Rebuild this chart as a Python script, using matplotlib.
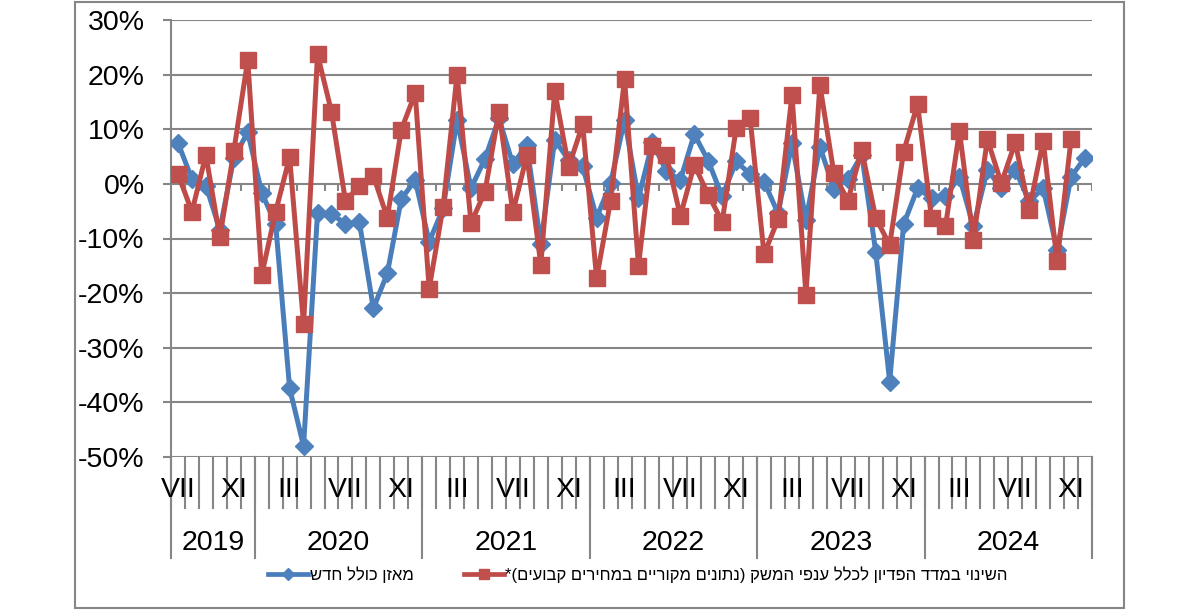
import numpy as np
import matplotlib.pyplot as plt
from matplotlib.lines import Line2D
from matplotlib.patches import Rectangle

plt.rcParams['font.family'] = ['Liberation Sans', 'DejaVu Sans']

# monthly data, July 2019 .. December 2024
years = [2019, 2020, 2021, 2022, 2023, 2024]
months_in_year = [6, 12, 12, 12, 12, 12]
first_month = 7
roman = ['I', 'II', 'III', 'IV', 'V', 'VI', 'VII', 'VIII', 'IX', 'X', 'XI', 'XII']

# new overall balance (%)
balance = [7.5, 0.9, -0.3, -8.4, 4.7, 9.5,
           -1.6, -7.4, -37.4, -48.0, -5.3, -5.5, -7.3, -7.0, -22.8, -16.4, -2.8, 0.7,
           -10.6, -4.5, 11.7, -0.8, 4.6, 12.0, 3.6, 7.1, -11.0, 8.1, 4.3, 3.2,
           -6.2, 0.1, 11.7, -2.6, 7.6, 2.3, 0.7, 9.1, 4.2, -2.3, 4.1, 1.8,
           0.4, -5.4, 7.4, -6.6, 6.8, -0.9, 0.9, 5.3, -12.4, -36.2, -7.4, -0.8,
           -2.6, -2.3, 1.3, -7.8, 2.6, -0.8, 2.6, -3.2, -0.8, -12.1, 1.3, 4.8]

# change in revenue index, all industries (%) - ends November 2024
revenue = [1.8, -5.1, 5.3, -9.8, 6.0, 22.7,
           -16.7, -5.1, 4.9, -25.7, 23.7, 13.2, -3.1, -0.4, 1.5, -6.2, 9.9, 16.6,
           -19.2, -4.2, 20.0, -7.2, -1.4, 13.1, -5.2, 5.2, -14.8, 17.0, 3.1, 10.9,
           -17.3, -3.1, 19.2, -15.0, 7.0, 5.2, -5.9, 3.5, -2.0, -6.9, 10.2, 12.0,
           -12.9, -6.5, 16.3, -20.3, 18.1, 2.0, -3.1, 6.2, -6.2, -11.2, 5.9, 14.6,
           -6.3, -7.8, 9.7, -10.3, 8.2, 0.1, 7.6, -4.8, 7.9, -14.2, 8.2]

names = ['מאזן כולל חדש',
         'השינוי במדד הפדיון לכלל ענפי המשק (נתונים מקוריים במחירים קבועים)*']


def visual(s):
    # matplotlib has no bidi, so put the Hebrew text in display order
    swap = {'(': ')', ')': '('}
    return ''.join(swap.get(c, c) for c in reversed(s))


n = sum(months_in_year)
month_nums = [(first_month - 1 + i) % 12 + 1 for i in range(n)]

blue = '#4A7EBB'
red = '#BE4B48'
grid = '#868686'

fig = plt.figure(figsize=(12, 6.1), dpi=100)
ax = fig.add_axes([171 / 1200, 1 - 457 / 610, (1092 - 171) / 1200, 437 / 610])

x = np.arange(n) + 0.5
ax.plot(x, balance, color=blue, lw=3.6, marker='D', ms=9.5, mfc='#4F81BD', mec='#4F81BD', zorder=3)
ax.plot(x[:len(revenue)], revenue, color=red, lw=3.6, marker='s', ms=12, mfc='#C0504D', mec='#C0504D', zorder=4)

ax.set_xlim(0, n)
ax.set_ylim(-50, 30)
ax.set_yticks(range(-50, 31, 10))
ax.set_yticklabels([f'{v}%' for v in range(-50, 31, 10)], fontsize=20.5)
ax.yaxis.grid(True, color=grid, lw=1.5)
ax.set_axisbelow(True)
ax.tick_params(axis='y', length=6, width=1.5, color=grid, pad=13)
ax.set_xticks([])
for side in ['top', 'right', 'bottom']:
    ax.spines[side].set_visible(False)
ax.spines['left'].set_color(grid)
ax.spines['left'].set_linewidth(1.5)

# small ticks on the zero line
ax.vlines(np.arange(1, n + 1), -1.3, 0, color=grid, lw=1.5, zorder=1)

# category separators under the plot
trans = ax.get_xaxis_transform()
for b in range(n + 1):
    ax.plot([b, b], [0, -0.117], transform=trans, clip_on=False, color=grid, lw=1.5)
edges = np.concatenate([[0], np.cumsum(months_in_year)])
for b in edges:
    ax.plot([b, b], [0, -0.231], transform=trans, clip_on=False, color=grid, lw=1.5)

for i, m in enumerate(month_nums):
    if (m - first_month) % 4 == 0:
        ax.text(i + 0.5, -0.0755, roman[m - 1], transform=trans, ha='center', va='center', fontsize=20.5)
for k, yr in enumerate(years):
    ax.text((edges[k] + edges[k + 1]) / 2, -0.197, str(yr), transform=trans,
            ha='center', va='center', fontsize=20.5)

handles = [Line2D([], [], color=blue, lw=3.4, marker='D', ms=6, mfc='#4F81BD', mec='#4F81BD'),
           Line2D([], [], color=red, lw=3.4, marker='s', ms=7, mfc='#C0504D', mec='#C0504D')]
fig.legend(handles, [visual(t) for t in names], loc='center', bbox_to_anchor=(638 / 1200, 1 - 575 / 610),
           ncol=2, frameon=False, fontsize=12, handlelength=2.4, handletextpad=0.1, columnspacing=3.0)

fig.patches.append(Rectangle((75 / 1200, 2 / 610), (1124 - 75) / 1200, 606 / 610, transform=fig.transFigure,
                             fill=False, edgecolor=grid, lw=1.5))

fig.savefig('out.png', dpi=100)
